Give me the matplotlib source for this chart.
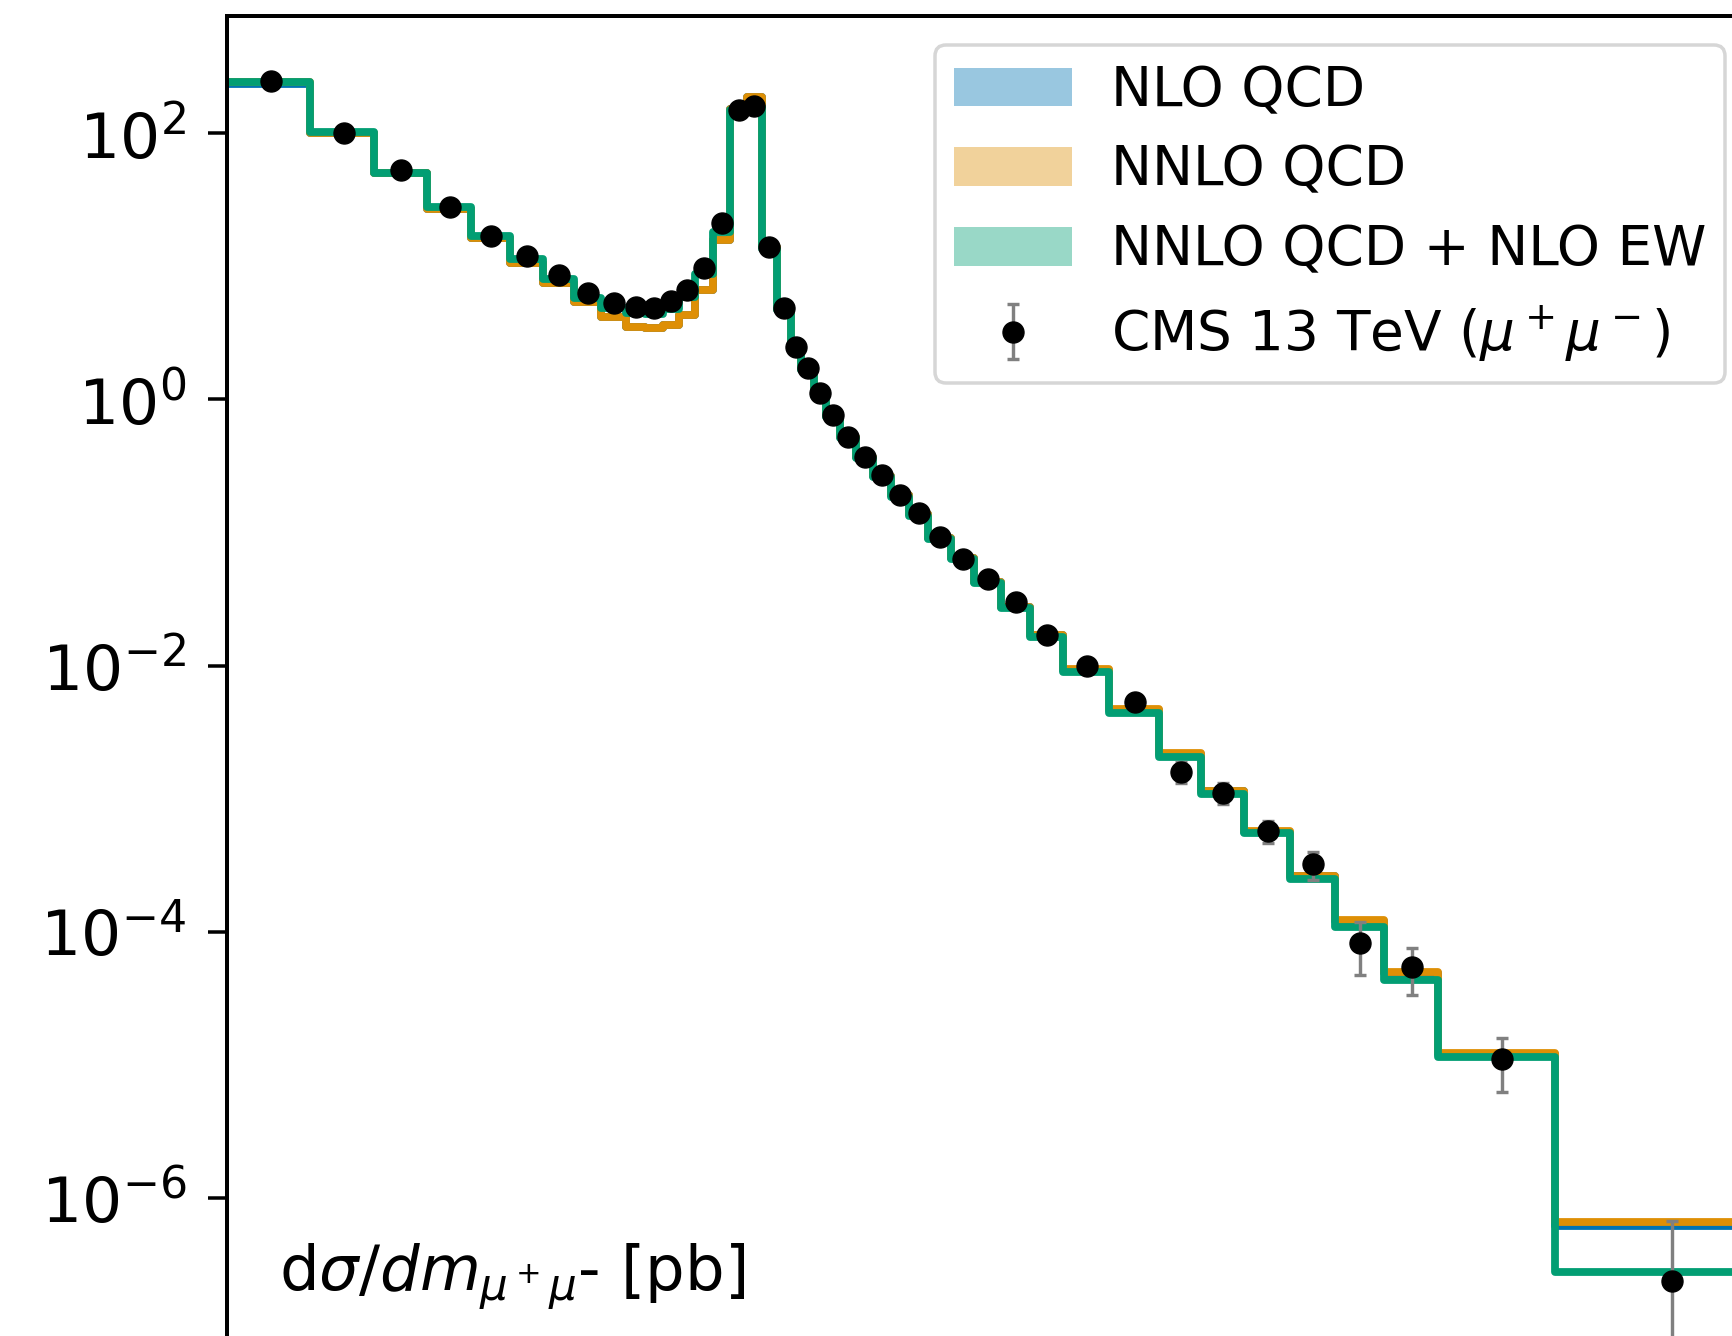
import numpy as np
import matplotlib
matplotlib.use("Agg")
import matplotlib.pyplot as plt
from matplotlib.patches import Patch
from matplotlib.ticker import FixedLocator, NullLocator, NullFormatter

# ---------------- data ----------------
mass_edges = [15, 20, 25, 30, 35, 40, 45, 50, 55, 60, 64, 68, 72, 76, 81, 86, 91,
              96, 101, 106, 110, 115, 120, 126, 133, 141, 150, 160, 171, 185, 200,
              220, 243, 273, 320, 380, 440, 510, 600, 700, 830, 1000, 1500, 3000]

cms_xsec = [248, 100, 53, 28, 17.0, 12.0, 8.6, 6.27, 5.33, 4.92, 4.84, 5.52, 6.64,
            9.66, 21.1, 151, 160, 14.1, 4.89, 2.49, 1.72, 1.11, 0.764, 0.525, 0.371,
            0.270, 0.191, 0.139, 0.092, 0.0635, 0.0446, 0.0302, 0.0169, 0.0099,
            0.00534, 0.00159, 0.00111, 5.73e-4, 3.2e-4, 8.26e-5, 5.45e-5, 1.10e-5,
            2.38e-7]

cms_err = [6, 2.5, 1.3, 0.7, 0.4, 0.3, 0.2, 0.15, 0.13, 0.12, 0.12, 0.13, 0.16,
           0.22, 0.45, 3.0, 3.2, 0.3, 0.11, 0.06, 0.045, 0.03, 0.02, 0.015, 0.011,
           0.008, 0.006, 0.0045, 0.003, 0.0022, 0.0016, 0.0012, 0.0008, 0.0005,
           0.0004, 2.8e-4, 2.0e-4, 1.1e-4, 7.5e-5, 3.5e-5, 2.1e-5, 4.8e-6, 4.3e-7]

nlo_qcd = [235, 100, 50.0, 27, 16.4, 10.6, 7.5, 5.42, 4.19, 3.52, 3.42, 3.62, 4.31,
           6.64, 15.8, 152, 188, 13.9, 4.75, 2.44, 1.69, 1.09, 0.755, 0.52, 0.367,
           0.267, 0.19, 0.137, 0.091, 0.0643, 0.0423, 0.0275, 0.0169, 0.0093,
           0.00462, 0.00218, 0.00114, 5.65e-4, 2.6e-4, 1.2e-4, 4.9e-5, 1.2e-5, 6.1e-7]

nnlo_qcd = [243, 100, 50.0, 27, 16.4, 10.6, 7.5, 5.42, 4.19, 3.52, 3.42, 3.62, 4.31,
            6.64, 15.8, 152, 188, 13.9, 4.75, 2.44, 1.69, 1.09, 0.755, 0.52, 0.367,
            0.267, 0.19, 0.137, 0.091, 0.0643, 0.0425, 0.0277, 0.0171, 0.0094,
            0.0047, 0.0022, 0.00115, 5.7e-4, 2.63e-4, 1.22e-4, 5.0e-5, 1.23e-5, 6.6e-7]

nnlo_qcd_nlo_ew = [243, 102, 50.6, 28, 17.0, 11.4, 8.1, 5.8, 4.84, 4.5, 4.4, 4.8,
                   5.9, 8.8, 18.2, 150, 158, 13.6, 4.7, 2.4, 1.66, 1.07, 0.74, 0.51,
                   0.36, 0.262, 0.186, 0.134, 0.089, 0.063, 0.0414, 0.0269, 0.0165,
                   0.00898, 0.00442, 0.00207, 0.00109, 5.48e-4, 2.47e-4, 1.09e-4,
                   4.33e-5, 1.135e-5, 2.78e-7]

series_labels = ["NLO QCD", "NNLO QCD", "NNLO QCD + NLO EW"]
series_colors = ["#0173b2", "#de8f05", "#029e73"]
data_label = r"CMS 13 TeV ($\mu^+\mu^-$)"
ylabel_text = r"d$\sigma/dm_{\mu^+\mu}$- [pb]"
y_tick_values = [1e-6, 1e-4, 1e-2, 1e0, 1e2]

# ---------------- layout ----------------
W, H, DPI = 1733, 1336, 100


def px(v):
    return v * 72.0 / DPI


fig = plt.figure(figsize=(W / DPI, H / DPI), dpi=DPI)
ax_left, ax_right, ax_top = 226.7, 1754.5, 15.7
y_top, y_bot = 766.0, 1e-8
px_per_dec = 133.05
ax_h = px_per_dec * (np.log10(y_top) - np.log10(y_bot))
ax = fig.add_axes([ax_left / W, (H - ax_top - ax_h) / H,
                   (ax_right - ax_left) / W, ax_h / H])

ax.set_xscale("log")
ax.set_yscale("log")

edges = np.array(mass_edges, dtype=float)
centers = 0.5 * (edges[:-1] + edges[1:])

for vals, col in zip([nlo_qcd, nnlo_qcd, nnlo_qcd_nlo_ew], series_colors):
    ax.stairs(vals, edges, baseline=None, color=col, linewidth=px(7.8),
              joinstyle="round")

eb = ax.errorbar(centers, cms_xsec, yerr=cms_err, fmt="o", color="black",
                 markersize=px(21), ecolor="gray", elinewidth=px(3.4),
                 capsize=px(6), capthick=px(3.4), label=data_label, zorder=5)

ax.set_xlim(mass_edges[0], mass_edges[-1])
ax.set_ylim(y_bot, y_top)

ax.yaxis.set_major_locator(FixedLocator(y_tick_values))
ax.yaxis.set_minor_locator(NullLocator())
ax.xaxis.set_minor_locator(NullLocator())
ax.xaxis.set_major_formatter(NullFormatter())
ax.tick_params(axis="both", which="major", length=px(19.5), width=px(3.5),
               labelsize=45.5, pad=px(21))
for sp in ax.spines.values():
    sp.set_linewidth(px(4))

handles = [Patch(facecolor=c, alpha=0.4, edgecolor="none", label=l)
           for c, l in zip(series_colors, series_labels)] + [eb]
leg = ax.legend(handles=handles, labels=series_labels + [data_label],
                loc="upper right", fontsize=39.5, borderaxespad=0.53,
                labelspacing=0.47, handlelength=2.15, handletextpad=0.7,
                borderpad=0.35)
leg.get_frame().set_linewidth(px(3.5))

fig.text(279 / W, (H - 1291) / H, ylabel_text, fontsize=45, va="baseline",
         ha="left")

fig.savefig("out.png", dpi=DPI)
